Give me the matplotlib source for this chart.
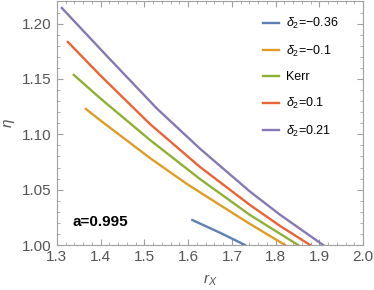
import matplotlib.pyplot as plt
from matplotlib.ticker import MultipleLocator

plt.rcParams['font.family'] = ['Liberation Sans', 'DejaVu Sans']
plt.rcParams['mathtext.fontset'] = 'custom'
plt.rcParams['mathtext.rm'] = 'Liberation Sans'
plt.rcParams['mathtext.it'] = 'Liberation Sans:italic'

labels = [r'$\delta_2$=−0.36', r'$\delta_2$=−0.1', 'Kerr', r'$\delta_2$=0.1', r'$\delta_2$=0.21']
colors = ['#5E81B5', '#E19C24', '#8FB032', '#EB6235', '#8778B3']

# values
r_blue = [1.6096, 1.6730, 1.7302]
eta_blue = [1.0226, 1.0111, 1.0]
r_orange = [1.3664, 1.3984, 1.5128, 1.5975, 1.6730, 1.7416, 1.8217]
eta_orange = [1.1229, 1.1129, 1.0786, 1.0551, 1.0361, 1.0190, 1.0]
r_green = [1.3389, 1.3984, 1.5128, 1.6272, 1.7416, 1.8515]
eta_green = [1.1536, 1.1328, 1.0949, 1.0596, 1.0271, 1.0]
r_red = [1.3252, 1.3984, 1.5128, 1.6272, 1.7416, 1.8103, 1.8789]
eta_red = [1.1834, 1.1536, 1.1093, 1.0705, 1.0361, 1.0172, 1.0]
r_purple = [1.3114, 1.4144, 1.5288, 1.6272, 1.7416, 1.8103, 1.9087]
eta_purple = [1.2141, 1.1707, 1.1232, 1.0870, 1.0482, 1.0273, 1.0]

xs = [r_blue, r_orange, r_green, r_red, r_purple]
ys = [eta_blue, eta_orange, eta_green, eta_red, eta_purple]

fig = plt.figure(figsize=(3.74, 2.9), dpi=100)
ax = fig.add_axes([0.152, 0.155, 0.819, 0.84])

for i in range(len(labels)):
    ax.plot(xs[i], ys[i], color=colors[i], lw=1.7, label=labels[i],
            solid_joinstyle='round')

ax.set_xlim(1.3, 2.0)
ax.set_ylim(1.0, 1.22)
ax.xaxis.set_major_locator(MultipleLocator(0.1))
ax.xaxis.set_minor_locator(MultipleLocator(0.02))
ax.yaxis.set_major_locator(MultipleLocator(0.05))
ax.yaxis.set_minor_locator(MultipleLocator(0.01))
ax.xaxis.set_major_formatter(lambda v, p: f'{v:.1f}')
ax.yaxis.set_major_formatter(lambda v, p: f'{v:.2f}')

gray = '#a0a0a0'
for s in ax.spines.values():
    s.set_color(gray)
ax.tick_params(which='both', direction='in', top=True, right=True, color=gray,
               labelsize=11, labelcolor='#555555')
ax.tick_params(which='major', length=4)
ax.tick_params(which='minor', length=2)

ax.set_xlabel(r'$r_X$', fontsize=11, color='#555555', labelpad=6)
ax.set_ylabel(r'$\eta$', fontsize=11, color='#555555', labelpad=4)

ax.text(1.335, 1.021, 'a=0.995', fontsize=11, fontweight='bold', va='center')

ax.legend(loc='upper left', bbox_to_anchor=(0.657, 0.96), borderaxespad=0,
          frameon=False, fontsize=9, handlelength=1.3, handletextpad=0.55,
          labelspacing=1.0)

fig.savefig('out.png', dpi=100)
